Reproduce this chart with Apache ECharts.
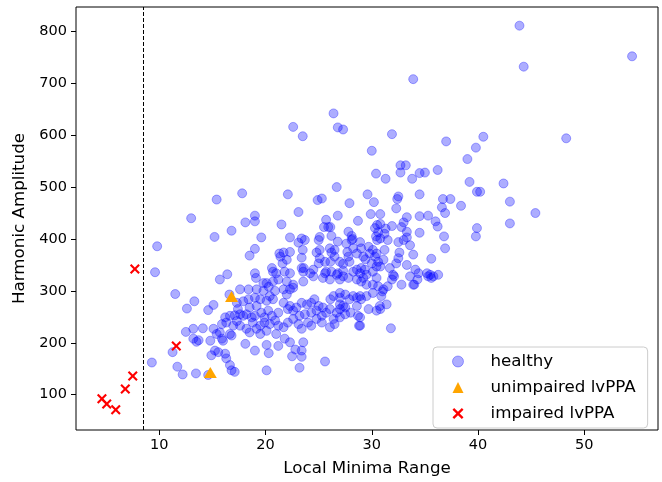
<!DOCTYPE html>
<html>
<head>
<meta charset="utf-8">
<script src="https://cdn.jsdelivr.net/npm/echarts@6/dist/echarts.min.js"></script>
<style>
html,body{margin:0;padding:0;background:#fff;}
#chart{width:662px;height:482px;}
</style>
</head>
<body>
<div id="chart"></div>
<script>
// ---- data ----
const seriesNames = ['healthy', 'unimpaired lvPPA', 'impaired lvPPA'];
const xTicks = [10, 20, 30, 40, 50];
const yTicks = [100, 200, 300, 400, 500, 600, 700, 800];
const thresholdX = 8.5;
const xName = 'Local Minima Range';
const yName = 'Harmonic Amplitude';

const unimpaired = [[16.8, 289], [14.8, 143]];
const impaired = [[7.7, 342], [11.6, 194], [7.5, 136], [6.8, 111], [4.6, 92], [5.05, 82], [5.9, 71]];

const healthySparse = [
  [43.9,811],[54.5,752],[44.3,732],[33.9,708],[48.3,594],[26.4,642],[26.8,615],[27.3,611],[22.6,616],[23.5,598],
  [31.9,602],[37.0,588],[40.5,597],[39.8,576],[39.0,554],[30.0,570],[32.7,542],[33.2,542],[30.4,526],[31.3,516],
  [32.7,528],[33.8,516],[34.5,527],[35.0,528],[36.2,533],[39.2,510],[42.4,507],[39.9,491],[40.2,491],[43.0,472],
  [45.4,450],[43.0,430],[26.7,500],[29.6,486],[30.2,471],[32.5,482],[32.4,477],[34.5,486],[32.3,459],[36.7,477],
  [37.4,477],[38.4,464],[36.6,461],[36.9,450],[27.9,469],[26.8,445],[28.7,435],[29.9,448],[30.8,448],[33.3,442],
  [33.0,432],[34.5,444],[35.3,445],[36.0,434],[36.2,424],[39.9,421],[39.8,405],[36.8,405],[30.5,427],[30.3,421],
  [30.4,405],[31.9,425],[31.3,420],[31.2,410],[33.3,414],[33.3,403],[32.8,423],[34.5,412],[27.8,414],[28.1,406],
  [26.1,423],[26.2,406],[26.8,395]
];
const healthyUpperLeft = [
  [17.8,488],[15.4,476],[22.1,486],[24.9,475],[25.3,478],[13.0,440],[16.8,416],[18.1,432],[19.0,445],[19.0,434],
  [21.5,428],[23.1,452],[15.2,404],[19.6,403],[22.3,403],[23.1,393],[23.4,401],[23.7,398],[25.1,404],[25.7,437],
  [25.9,423],[25.5,423],[9.8,386],[9.6,336],[19.0,381],[18.5,368]
];
const healthyMiddle = [
  [28.2,400],[30.6,413],[30.5,398],[29.7,385],[30.1,379],[21.3,372],[21.7,374],[21.4,366],[22.0,360],[21.6,353],
  [22.3,375],[23.4,364],[24.8,374],[25.1,363],[25.0,353],[25.6,356],[26.05,382],[26.2,374],[26.5,366],[26.1,356],
  [27.0,356],[27.3,352],[27.7,375],[27.8,366],[27.9,356],[28.25,382],[28.6,372],[29.0,382],[29.2,366],[29.4,361],
  [30.3,366],[30.6,356],[30.45,347],[20.7,337],[21.0,334],[21.8,337],[22.3,334],[23.4,344],[23.55,337],[24.2,334],
  [24.5,341],[25.7,337],[26.2,337],[26.8,334],[27.3,339],[28.25,337],[28.9,334],[29.35,341],[30.1,337],[19.0,334],
  [19.1,325],[19.8,315],[20.3,308],[20.6,344],[23.5,379],[23.6,344],[25.0,398],[25.1,379],[25.6,334]
];
const healthyRight = [
  [31.5,398],[30.8,429],[30.8,401],[33.6,388],[32.5,394],[33.0,398],[36.9,382],[35.6,362],[33.9,370],[33.3,350],
  [34.1,341],[34.4,334],[33.6,328],[33.9,312],[32.8,312],[32.1,328],[32.3,353],[31.7,344],[31.1,360],[30.8,347],
  [30.45,372],[31.2,379],[32.6,374],[32.5,363],[32.0,331],[35.2,334],[35.5,331],[36.25,331],[35.3,328],[35.8,328],
  [34.3,322],[30.0,353],[29.8,372],[28.9,394],[28.1,398],[27.6,391],[34.0,312],[35.6,325],[31.9,322],[31.5,309],
  [31.1,303],[31.4,274],[30.8,265],[30.9,290],[31.8,228]
];
const healthyLowerMid = [
  [31.0,299],[30.76,271],[29.7,265],[28.9,249],[28.8,233],[28.7,252],[28.0,258],[27.5,255],[27.0,274],[27.3,271],
  [26.7,258],[26.06,230],[26.5,236],[26.4,246],[26.06,265],[27.0,287],[27.9,284],[28.6,271],[28.25,290],[28.9,290],
  [29.5,312],[30.1,312],[30.45,325],[29.5,331],[29.2,325],[29.0,344],[28.6,341],[27.3,328],[26.7,331],[26.06,322],
  [27.0,322],[26.5,379]
];
const healthyDense = [
  [20.1,315],[20.7,318],[21.2,322],[22.0,318],[22.6,312],[23.55,318],[24.5,328],[25.4,325],[27.8,325],[28.6,322],
  [29.0,318],[19.8,300],[20.4,290],[20.9,300],[21.7,303],[22.0,293],[22.3,303],[22.6,306],[19.5,284],[20.1,281],
  [20.7,284],[21.7,277],[22.3,271],[22.9,268],[23.4,277],[23.9,274],[24.3,277],[24.6,284],[25.0,271],[25.4,268],
  [26.1,284],[26.4,290],[27.0,296],[27.5,293],[28.6,287],[29.0,284],[29.5,290],[30.1,296],[30.6,309],[19.6,258],
  [20.25,262],[19.9,249],[20.6,252],[21.2,258],[22.1,265],[22.6,262],[23.2,252],[23.7,255],[24.3,258],[24.8,262],
  [25.3,252],[25.7,258],[27.0,265],[27.5,268],[19.5,233],[19.9,239],[20.4,236],[20.9,243],[21.2,233],[21.7,230],
  [22.1,239],[22.6,246],[23.1,236],[23.4,227],[24.0,239],[24.3,233],[24.8,246],[25.3,239],[27.0,249],[20.1,223],
  [21.0,217],[21.8,208],[21.2,194],[20.3,180],[20.1,196],[22.3,201],[22.8,187],[23.4,185],[22.5,174],[23.4,173],
  [23.55,201],[23.2,152],[20.1,147],[25.6,164],[28.9,233],[30.45,262]
];
const healthyLeft = [
  [16.6,293],[17.6,303],[18.4,303],[19.16,303],[19.0,287],[18.4,284],[18.5,268],[19.16,271],[17.3,277],[17.9,280],
  [17.4,265],[16.65,252],[17.1,253],[17.6,255],[17.9,252],[18.2,255],[18.7,249],[19.0,252],[16.2,249],[16.3,239],
  [15.9,236],[15.1,227],[14.1,228],[13.2,227],[13.2,208],[13.5,202],[13.7,205],[12.5,221],[15.4,217],[15.7,220],
  [14.8,204],[16.65,217],[16.8,214],[16.0,204],[15.9,208],[15.24,185],[15.55,182],[14.9,176],[16.2,179],[16.3,170],
  [16.65,157],[16.8,147],[17.1,144],[18.1,198],[19.0,185],[18.5,220],[18.2,227],[18.8,239],[19.15,227],[19.5,217],
  [17.3,242],[17.6,233],[16.96,233],[11.25,182],[11.7,154],[12.2,139],[13.45,141],[14.6,138],[9.3,162],[11.5,294],
  [13.3,280],[12.6,266],[14.6,263],[15.1,273],[15.7,322],[16.4,332]
];
const healthy = [].concat(healthySparse, healthyUpperLeft, healthyMiddle, healthyRight, healthyLowerMid, healthyDense, healthyLeft);

// ---- chart ----
const FONT = 'DejaVu Sans';
const chart = echarts.init(document.getElementById('chart'), null, {renderer: 'canvas'});
const xPath = 'path://M1.5,0 L5,3.5 L8.5,0 L10,1.5 L6.5,5 L10,8.5 L8.5,10 L5,6.5 L1.5,10 L0,8.5 L3.5,5 L0,1.5 Z';

chart.setOption({
  animation: false,
  backgroundColor: '#ffffff',
  textStyle: {fontFamily: FONT, color: '#000'},
  grid: {left: 76, right: 4, top: 7, bottom: 47, show: true, borderColor: '#000', borderWidth: 1, backgroundColor: 'transparent'},
  xAxis: {
    type: 'value', min: 2.16, max: 56.94,
    name: xName, nameLocation: 'middle', nameGap: 30,
    nameTextStyle: {fontFamily: FONT, fontSize: 16.7, color: '#000'},
    axisLine: {show: false},
    axisTick: {show: true, length: 5, inside: false, customValues: xTicks, lineStyle: {color: '#000', width: 1}},
    axisLabel: {customValues: xTicks, fontFamily: FONT, fontSize: 14.5, color: '#000', margin: 8},
    splitLine: {show: false}
  },
  yAxis: {
    type: 'value', min: 32, max: 847,
    name: yName, nameLocation: 'middle', nameGap: 39, nameRotate: 90,
    nameTextStyle: {fontFamily: FONT, fontSize: 16.7, color: '#000'},
    axisLine: {show: false},
    axisTick: {show: true, length: 5, inside: false, customValues: yTicks, lineStyle: {color: '#000', width: 1}},
    axisLabel: {customValues: yTicks, fontFamily: FONT, fontSize: 14.5, color: '#000', margin: 9},
    splitLine: {show: false}
  },
  legend: {
    orient: 'vertical', left: 433, top: 347,
    padding: [6, 12, 6, 19],
    itemWidth: 11, itemHeight: 11, itemGap: 9,
    borderColor: '#cccccc', borderWidth: 1, borderRadius: 4,
    backgroundColor: 'rgba(255,255,255,0.8)',
    textStyle: {fontFamily: FONT, fontSize: 16.7, color: '#000', padding: [0, 0, 0, 22]},
    data: [
      {name: seriesNames[0], icon: 'circle', itemStyle: {color: '#0000ff', opacity: 0.32, borderColor: '#0000ff', borderWidth: 1}},
      {name: seriesNames[1], icon: 'triangle', itemStyle: {color: '#ffa500', opacity: 1, borderWidth: 0}},
      {name: seriesNames[2], icon: xPath, itemStyle: {color: '#ff0000', opacity: 1, borderWidth: 0}}
    ]
  },
  series: [
    {
      name: seriesNames[0], type: 'scatter', data: healthy,
      symbol: 'circle', symbolSize: 9,
      itemStyle: {color: '#0000ff', opacity: 0.32, borderColor: '#0000ff', borderWidth: 1},
      emphasis: {disabled: true}
    },
    {
      name: seriesNames[1], type: 'scatter', data: unimpaired,
      symbol: 'triangle', symbolSize: [13, 11],
      itemStyle: {color: '#ffa500', opacity: 1},
      emphasis: {disabled: true}
    },
    {
      name: seriesNames[2], type: 'scatter', data: impaired,
      symbol: xPath, symbolSize: 10,
      itemStyle: {color: '#ff0000', opacity: 1},
      emphasis: {disabled: true},
      markLine: {
        silent: true, symbol: 'none', animation: false,
        label: {show: false},
        lineStyle: {color: '#000', width: 1, type: [4, 2], opacity: 1},
        data: [{xAxis: thresholdX}]
      }
    }
  ]
});
</script>
</body>
</html>
